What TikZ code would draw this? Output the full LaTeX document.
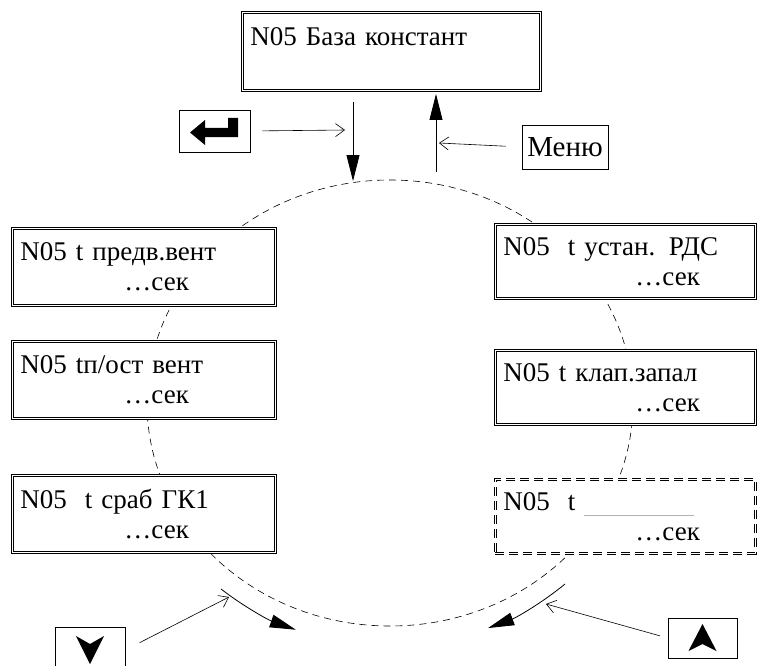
\documentclass[tikz,border=0pt]{standalone}
\usepackage{fontspec}
\setmainfont{Liberation Serif}
\usetikzlibrary{positioning, arrows.meta}

\begin{document}
\begin{tikzpicture}[x=1pt, y=-1pt,
  box/.style={draw, double, double distance=1.3pt, line width=0.9pt, fill=white, align=left, anchor=north west, inner xsep=7pt, font=\fontsize{27}{30}\selectfont},
  lbox/.style={box, minimum width=263pt, text width=247pt, minimum height=77pt},
  rbox/.style={box, minimum width=260pt, text width=244pt, minimum height=74pt},
  key/.style={draw, line width=0.6pt, inner sep=0pt, minimum width=71pt, minimum height=42pt},
  ring/.style={dash pattern=on 7pt off 5pt, line width=0.6pt},
  thinarr/.style={line width=0.6pt, -{Straight Barb[length=9pt,width=13pt]}},
  fatarr/.style={line width=0.8pt, -{Triangle[length=26pt,width=13pt]}}
]
\useasboundingbox (0,0) rectangle (757,666);

% the ring of menu items
\draw[ring] (390,403) ellipse [x radius=243pt, y radius=223pt];

\node[box, minimum width=298pt, text width=282pt, minimum height=78pt] (base) at (242,12) {N05 База констант\\\mbox{}};

% left column
\node[lbox] (tpv) at (12,228) {N05 t предв.вент\\\hspace*{104pt}…сек};
\node[lbox] (tpost) at (12,341) {N05 tп/ост вент\\\hspace*{104pt}…сек};
\node[lbox] (tgk) at (12,475) {N05\ \ t сраб ГК1\\\hspace*{104pt}…сек};

% right column
\node[rbox] (trds) at (495,224) {N05\ \ t устан. РДС\\\hspace*{132pt}…сек};
\node[rbox] (tzap) at (495,350) {N05 t клап.запал\\\hspace*{132pt}…сек};
\node[rbox, dash pattern=on 9pt off 5pt] (tnew) at (495,479) {N05\ \ t\ \textcolor{gray!60}{\rule[-5pt]{110pt}{0.6pt}}\\\hspace*{132pt}…сек};

% keys
\node[key] (enterkey) at (214.5,131) {};
\fill[shift={(enterkey.center)}] (-24.5,1.5) -- (-9.5,-11) -- (-9.5,-3) -- (13.5,-3) -- (13.5,-13) -- (23.5,-13) -- (23.5,6) -- (-9.5,6) -- (-9.5,14) -- cycle;
\node[key, minimum width=86pt, minimum height=44pt, font=\fontsize{29}{30}\selectfont] (menukey) at (565,147) {Меню};
\node[key, minimum width=70pt, minimum height=46pt] (downkey) at (90,650) {};
\fill[shift={(downkey.center)}] (-14,-14) -- (0,-6) -- (14,-14) -- (0,14) -- cycle;
\node[key, minimum width=69pt, minimum height=40pt] (upkey) at (702.5,638) {};
\fill[shift={(upkey.center)}] (-14,13) -- (0,6) -- (14,13) -- (0,-14) -- cycle;

\coordinate (entin) at (345,130);
\coordinate (menuin) at (439,143);
\coordinate (dnin) at (229,597);
\coordinate (upin) at (546,604);
\coordinate (godown) at (353,102);
\coordinate (ringtop) at (353,181);
\coordinate (goup) at (436,172);
\coordinate (baseup) at (436,94);

\draw[fatarr] (godown) -- (ringtop);
\draw[fatarr] (goup) -- (baseup);
\draw[thinarr, shorten <=12pt] (enterkey.east) -- (entin);
\draw[thinarr, shorten <=16pt] (menukey.west) -- (menuin);
\draw[thinarr, shorten <=16pt] (downkey.east) -- (dnin);
\draw[thinarr, shorten <=8pt] (upkey.west) -- (upin);

% turning directions
\draw[fatarr] (221,589) arc[start angle=230, end angle=249, x radius=263pt, y radius=243pt];
\draw[fatarr] (565,584) arc[start angle=311.7, end angle=291.9, x radius=263pt, y radius=243pt];
\end{tikzpicture}
\end{document}
